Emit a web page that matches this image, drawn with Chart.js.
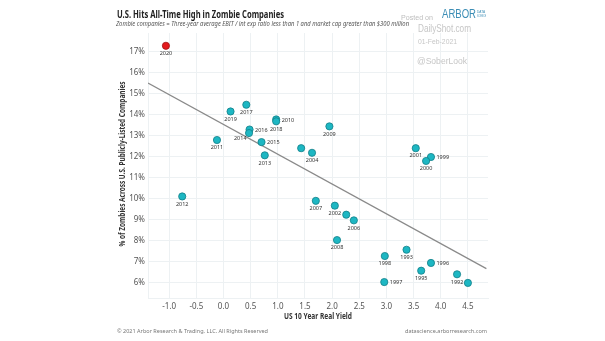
<!DOCTYPE html>
<html>
<head>
<meta charset="utf-8">
<script src="https://cdn.jsdelivr.net/npm/chart.js@4.4.1/dist/chart.umd.min.js"></script>
<style>
    html, body { margin: 0; padding: 0; background: #fff; }
    #wrap { position: relative; width: 605px; height: 341px; }
</style>
</head>
<body>
<div id="wrap"><canvas id="chartZombies"></canvas></div>
<script>
// DATA
var years = ["2020", "2019", "2017", "2010", "2018", "2016", "2014", "2015", "2013", "2011",
    "2012", "", "2004", "2009", "2001", "1999", "2000", "2007", "2002", "",
    "2006", "2008", "1998", "1993", "1995", "1996", "1997", "1992", ""];
var realYield = [-1.06, 0.13, 0.42, 0.97, 0.97, 0.48, 0.47, 0.70, 0.76, -0.12,
    -0.76, 1.43, 1.63, 1.95, 3.54, 3.82, 3.73, 1.70, 2.05, 2.26,
    2.40, 2.09, 2.97, 3.37, 3.64, 3.82, 2.96, 4.30, 4.50];
var zombiePct = [17.29, 14.16, 14.48, 13.78, 13.69, 13.30, 13.13, 12.70, 12.07, 12.80,
    10.11, 12.41, 12.19, 13.45, 12.41, 11.99, 11.80, 9.90, 9.67, 9.24,
    8.97, 8.03, 7.27, 7.57, 6.57, 6.94, 6.03, 6.40, 5.99];
var trendX = [-1.39, 4.84];
var trendY = [15.51, 6.67];
var xTicks = [-1.0, -0.5, 0.0, 0.5, 1.0, 1.5, 2.0, 2.5, 3.0, 3.5, 4.0, 4.5];
var yTicks = [6, 7, 8, 9, 10, 11, 12, 13, 14, 15, 16, 17];

// label placement (default is below the dot)
var labelsRight = ["2010", "2016", "2015", "1999", "1996", "1997"];
var labelsLeft = ["2014"];

var TEAL = "#1db7c3";
var RED = "#e3191c";

function fitText(ctx, txt, x, y, w, font, color) {
    ctx.save();
    ctx.font = font;
    ctx.fillStyle = color;
    ctx.textBaseline = "middle";
    ctx.textAlign = "left";
    var m = ctx.measureText(txt).width;
    ctx.translate(x, y);
    ctx.scale(w / m, 1);
    ctx.fillText(txt, 0, 0);
    ctx.restore();
}

var pointLabels = {
    id: "pointLabels",
    afterDatasetsDraw: function (chart) {
        var ctx = chart.ctx;
        var meta = chart.getDatasetMeta(0);
        ctx.save();
        ctx.font = "5.5px 'Noto Sans'";
        ctx.fillStyle = "#333";
        ctx.textBaseline = "middle";
        meta.data.forEach(function (pt, i) {
            var txt = years[i];
            if (!txt) return;
            if (labelsRight.indexOf(txt) >= 0) {
                ctx.textAlign = "left";
                ctx.fillText(txt, pt.x + 5.5, pt.y + 0.5);
            } else if (labelsLeft.indexOf(txt) >= 0) {
                ctx.textAlign = "right";
                ctx.fillText(txt, pt.x - 2.5, pt.y + 5);
            } else {
                ctx.textAlign = "center";
                ctx.fillText(txt, pt.x, pt.y + 7.7);
            }
        });
        ctx.restore();
    }
};

var decorations = {
    id: "decorations",
    afterDraw: function (chart) {
        var ctx = chart.ctx;
        fitText(ctx, "U.S. Hits All-Time High in Zombie Companies", 117, 15, 167, "bold 10px 'Noto Sans'", "#222");
        fitText(ctx, "Zombie companies = Three-year average EBIT / int exp ratio less than 1 and market cap greater than $300 million",
            116, 24.5, 293, "italic 6.5px 'Noto Sans'", "#555");
        fitText(ctx, "Posted on", 401, 17.5, 32, "8px 'Liberation Sans'", "#bdbdbd");
        fitText(ctx, "ARBOR", 442, 14.5, 34, "12px 'Liberation Sans'", "#3b8db5");
        fitText(ctx, "DATA", 477, 12, 8, "3.5px 'Liberation Sans'", "#3b8db5");
        fitText(ctx, "SCIENCE", 477, 16, 9, "3.5px 'Liberation Sans'", "#3b8db5");
        fitText(ctx, "DailyShot.com", 418, 29.5, 53, "10px 'Liberation Sans'", "#c6c6c6");
        fitText(ctx, "01-Feb-2021", 418, 42.5, 39, "7px 'Liberation Sans'", "#c6c6c6");
        fitText(ctx, "@SoberLook", 417, 61, 50, "9.5px 'Liberation Sans'", "#c6c6c6");
        fitText(ctx, "US 10 Year Real Yield", 284, 317, 68, "bold 8.5px 'Noto Sans'", "#333");
        ctx.save();
        ctx.translate(123, 164);
        ctx.rotate(-Math.PI / 2);
        fitText(ctx, "% of Zombies Across U.S. Publicly-Listed Companies", -82.5, 0, 165, "bold 8.5px 'Noto Sans'", "#333");
        ctx.restore();
        fitText(ctx, "\u00a9 2021 Arbor Research & Trading, LLC. All Rights Reserved", 117, 331, 151, "6px 'Noto Sans'", "#777");
        fitText(ctx, "datascience.arborresearch.com", 405, 331, 82, "6px 'Noto Sans'", "#777");
    }
};

var ctxZ = document.getElementById("chartZombies").getContext("2d");
new Chart(ctxZ, {
    type: "scatter",
    data: {
        datasets: [
            {
                label: "Zombie companies",
                data: realYield.map(function (x, i) { return { x: x, y: zombiePct[i] }; }),
                pointRadius: 3.6,
                pointHoverRadius: 3.6,
                pointBorderWidth: 0.8,
                pointBackgroundColor: function (c) { return years[c.dataIndex] === "2020" ? RED : TEAL; },
                pointBorderColor: function (c) { return years[c.dataIndex] === "2020" ? "#a01214" : "#137f88"; },
                order: 0,
            },
            {
                label: "Trend",
                data: trendX.map(function (x, i) { return { x: x, y: trendY[i] }; }),
                showLine: true,
                borderColor: "#8a8a8a",
                borderWidth: 1.2,
                pointRadius: 0,
                order: 1,
            },
        ],
    },
    options: {
        responsive: true,
        maintainAspectRatio: false,
        animation: false,
        layout: {
            padding: { left: 108, right: 117, top: 33, bottom: 7 },
        },
        plugins: {
            legend: { display: false },
            tooltip: { enabled: false },
        },
        scales: {
            x: {
                type: "linear",
                min: -1.39,
                max: 4.87,
                afterBuildTicks: function (scale) {
                    scale.ticks = xTicks.map(function (v) { return { value: v }; });
                },
                afterFit: function (scale) { scale.height = 36; },
                ticks: {
                    padding: 4,
                    color: "#555",
                    font: { family: "Noto Sans", size: 8 },
                    callback: function (v) { return v.toFixed(1); },
                },
                grid: { color: "#edf1f3", lineWidth: 1, drawTicks: false },
                border: { color: "#edf1f3" },
            },
            y: {
                type: "linear",
                min: 5.27,
                max: 17.9,
                afterBuildTicks: function (scale) {
                    scale.ticks = yTicks.map(function (v) { return { value: v }; });
                },
                afterFit: function (scale) { scale.width = 40; },
                ticks: {
                    padding: 3,
                    color: "#555",
                    font: { family: "Noto Sans", size: 8 },
                    callback: function (v) { return v + "%"; },
                },
                grid: { color: "#edf1f3", lineWidth: 1, drawTicks: false },
                border: { color: "#edf1f3" },
            },
        },
    },
    plugins: [pointLabels, decorations],
});
</script>
</body>
</html>
